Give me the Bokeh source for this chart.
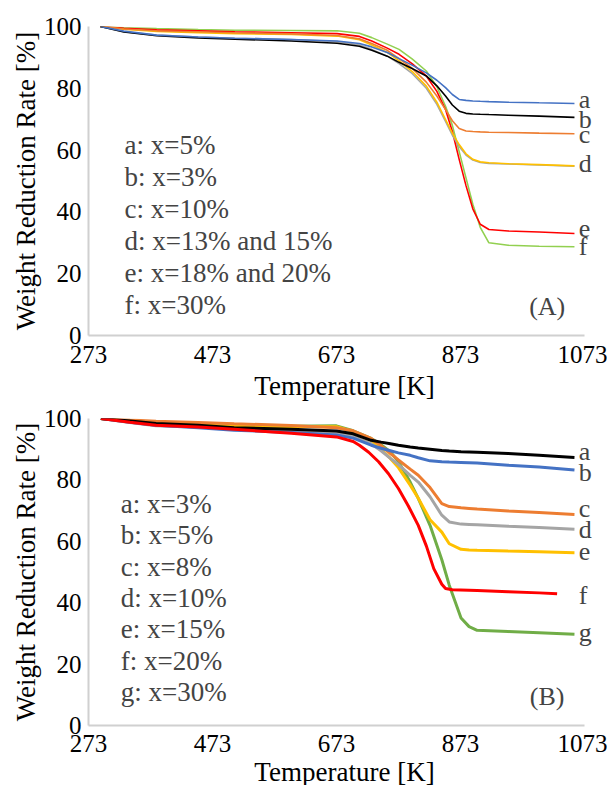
from bokeh.plotting import figure
from bokeh.layouts import column
from bokeh.models import Range1d, FixedTicker, Label
from bokeh.embed import file_html
from bokeh.resources import INLINE

FONT = "Liberation Serif"

# ---------------- Panel A data ----------------
T_A = [292, 330, 383, 450, 509, 600, 674, 710, 730, 755, 774, 795, 818, 835,
       849, 860, 871, 882, 893, 905, 919, 950, 1000, 1057]
A_a = [100, 98.5, 97.2, 96.6, 96.2, 95.8, 95.3, 94.5, 93.4, 91.6, 89.6, 87.5, 85.0, 82.6,
       80.2, 78.0, 76.4, 76.1, 75.9, 75.8, 75.7, 75.5, 75.3, 75.1]
A_b = [100, 98.2, 97.0, 96.3, 95.9, 95.3, 94.6, 93.6, 92.3, 90.4, 88.4, 86.4, 84.0, 80.8,
       77.5, 74.6, 72.6, 71.9, 71.7, 71.6, 71.5, 71.3, 71.0, 70.6]
A_c = [100, 99.2, 98.6, 98.3, 98.0, 97.6, 97.1, 96.0, 94.5, 92.3, 89.6, 86.5, 82.0, 77.5,
       73.1, 69.5, 67.0, 66.2, 66.0, 65.9, 65.8, 65.7, 65.5, 65.3]
A_d1 = [100, 98.3, 97.2, 96.6, 96.2, 95.8, 95.1, 94.0, 92.6, 90.4, 88.0, 84.8, 80.0, 74.8,
        69.3, 64.8, 61.2, 58.4, 56.8, 56.0, 55.7, 55.5, 55.2, 54.8]
A_d2 = [100, 99.1, 98.4, 98.0, 97.7, 97.4, 96.9, 95.7, 94.0, 91.6, 88.9, 85.5, 80.7, 75.5,
        69.9, 65.5, 61.8, 58.8, 57.0, 56.2, 55.9, 55.6, 55.3, 54.9]
A_e = [100, 99.4, 98.9, 98.6, 98.3, 98.0, 97.7, 96.8, 95.3, 93.0, 91.0, 88.0, 84.0, 79.0,
       73.1, 66.0, 57.0, 48.5, 41.0, 36.0, 34.3, 33.8, 33.5, 33.0]
A_f = [100, 99.6, 99.3, 99.0, 98.8, 98.7, 98.6, 97.8, 96.4, 94.3, 92.6, 89.5, 85.6, 80.5,
       74.2, 68.0, 59.5, 51.0, 42.5, 35.0, 30.0, 29.2, 28.9, 28.7]
A_legend = ["a: x=5%", "b: x=3%", "c: x=10%", "d: x=13% and 15%",
            "e: x=18% and 20%", "f: x=30%"]

# ---------------- Panel B data ----------------
T_B = [293, 340, 382, 450, 508, 600, 673, 700, 729, 745, 760, 773, 792, 805,
       824, 843, 855, 874, 887, 900, 950, 1000, 1057]
B_a = [100, 99.2, 98.4, 97.8, 97.0, 96.5, 95.9, 95.0, 92.9, 92.3, 91.8, 91.3, 90.7, 90.4,
       90.0, 89.6, 89.4, 89.2, 89.1, 89.0, 88.6, 88.0, 87.3]
B_b = [100, 98.8, 97.8, 97.0, 96.2, 95.4, 94.6, 93.6, 91.3, 90.3, 89.5, 88.8, 88.0, 87.2,
       86.2, 85.9, 85.8, 85.7, 85.6, 85.5, 84.8, 84.2, 83.2]
B_c = [100, 99.5, 99.1, 98.7, 98.3, 97.7, 97.0, 96.0, 93.5, 91.2, 88.6, 86.5, 83.5, 81.5,
       77.5, 72.3, 71.3, 70.9, 70.7, 70.5, 69.9, 69.4, 68.7]
B_d = [100, 98.7, 97.6, 97.2, 96.7, 96.0, 95.4, 94.2, 91.8, 89.5, 87.0, 85.0, 81.5, 79.3,
       74.5, 68.5, 66.3, 65.6, 65.5, 65.4, 64.9, 64.5, 63.9]
B_e = [100, 99.0, 98.2, 97.9, 97.5, 97.4, 97.3, 95.8, 92.9, 90.0, 87.0, 84.0, 78.3, 74.0,
       67.0, 63.0, 59.2, 57.4, 57.2, 57.1, 56.8, 56.6, 56.3]
B_g = [100, 99.0, 98.3, 97.9, 97.4, 97.5, 97.6, 96.0, 93.5, 91.5, 89.1, 86.0, 79.3, 74.0,
       65.2, 54.0, 45.7, 35.0, 32.2, 31.0, 30.6, 30.2, 29.7]
T_B_f = [293, 340, 382, 450, 508, 600, 673, 700, 710, 725, 741, 757, 773, 789,
         805, 818, 830, 843, 849, 860, 900, 950, 1000, 1029]
B_f = [100, 98.8, 97.8, 97.2, 96.5, 95.2, 94.0, 92.5, 91.3, 89.0, 85.9, 82.0, 77.2, 71.5,
       65.2, 58.5, 51.1, 46.0, 44.6, 44.2, 44.0, 43.6, 43.2, 42.9]
B_legend = ["a: x=3%", "b: x=5%", "c: x=8%", "d: x=10%", "e: x=15%",
            "f: x=20%", "g: x=30%"]

X_TICKS = [273, 473, 673, 873, 1073]
Y_TICKS = [0, 20, 40, 60, 80, 100]
X_MIN, X_MAX, X_VIEW_MAX = 273, 1073, 1099

BLUE, BLACK, ORANGE, GRAY = "#4472C4", "#000000", "#ED7D31", "#A5A5A5"
YELLOW, RED, LGREEN, GREEN = "#FFC000", "#FF0000", "#92D050", "#70AD47"


def make_panel(fh, btop, bbot, xstand, series, lw, end_labels, legend, leg_x,
               leg_top, leg_step, tag):
    p = figure(frame_width=512, frame_height=fh,
               x_range=Range1d(X_MIN, X_VIEW_MAX), y_range=Range1d(0, 100),
               output_backend="svg", toolbar_location=None,
               min_border_left=88, min_border_right=7, min_border_top=btop,
               min_border_bottom=bbot)
    p.outline_line_color = None
    p.grid.visible = False
    for ax in (p.xaxis[0], p.yaxis[0]):
        ax.axis_line_color = "#D0D0D0"
        ax.axis_line_width = 2
        ax.major_tick_line_color = None
        ax.minor_tick_line_color = None
        ax.major_label_text_font = FONT
        ax.major_label_text_font_size = "25px"
        ax.major_label_text_color = "black"
        ax.axis_label_text_font = FONT
        ax.axis_label_text_font_size = "27px"
        ax.axis_label_text_font_style = "normal"
        ax.axis_label_text_color = "black"
    p.yaxis.major_label_standoff = 1
    p.yaxis.axis_label_standoff = 0
    p.xaxis.major_label_standoff = xstand[0]
    p.xaxis.axis_label_standoff = xstand[1]
    p.xaxis.bounds = (X_MIN, X_MAX)
    p.xaxis.ticker = FixedTicker(ticks=X_TICKS)
    p.yaxis.ticker = FixedTicker(ticks=Y_TICKS)
    p.xaxis.axis_label = "Temperature [K]"
    p.yaxis.axis_label = "Weight Reduction Rate [%]"

    for xs, ys, col in series:
        p.line(xs, ys, line_color=col, line_width=lw)

    for letter, yv, dy in end_labels:
        p.add_layout(Label(x=1064, y=yv, text=letter, y_offset=dy,
                           text_font=FONT, text_font_size="26px",
                           text_baseline="middle", text_align="left"))
    for i, t in enumerate(legend):
        p.add_layout(Label(x=leg_x, y=leg_top - i * leg_step, text=t,
                           text_font=FONT, text_font_size="27px",
                           text_baseline="middle", text_align="left"))
    p.add_layout(Label(x=1013, y=9.5, text=tag, text_font=FONT,
                       text_font_size="26px", text_baseline="middle",
                       text_align="center"))
    return p


seriesA = [(T_A, A_f, LGREEN), (T_A, A_e, RED), (T_A, A_d1, GRAY), (T_A, A_d2, YELLOW),
           (T_A, A_c, ORANGE), (T_A, A_b, BLACK), (T_A, A_a, BLUE)]
labelsA = [("a", A_a[-1], 4), ("b", A_b[-1], -2), ("c", A_c[-1], -1),
           ("d", A_d2[-1], 2), ("e", A_e[-1], 5), ("f", A_f[-1], 0)]
pA = make_panel(309, 26, 66, (4, 5), seriesA, 1.6, labelsA, A_legend, 331, 61.5,
                10.35, "(A)")

seriesB = [(T_B, B_g, GREEN), (T_B, B_e, YELLOW), (T_B, B_d, GRAY), (T_B, B_c, ORANGE),
           (T_B, B_b, BLUE), (T_B, B_a, BLACK), (T_B_f, B_f, RED)]
labelsB = [("a", B_a[-1], 6), ("b", B_b[-1], -2), ("c", B_c[-1], 6),
           ("d", B_d[-1], 0), ("e", B_e[-1], 1), ("f", B_f[-1], -2), ("g", B_g[-1], 2)]
pB = make_panel(307, 15, 62, (3, 2), seriesB, 3, labelsB, B_legend, 325, 72.1,
                10.2, "(B)")

layout = column(pA, pB, spacing=0)
open("out.html", "w").write(file_html(layout, INLINE))
